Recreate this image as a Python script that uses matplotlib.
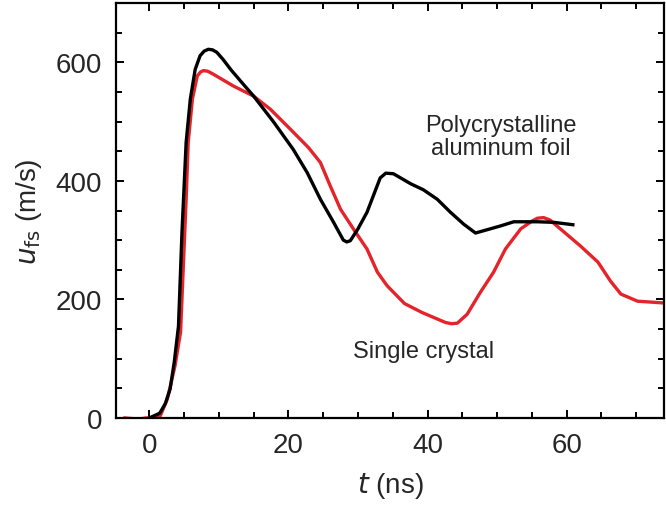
import numpy as np
from matplotlib import pyplot as plt
from matplotlib.ticker import MultipleLocator

# polycrystalline aluminum foil (black)
t_poly = [0, 1.5, 2.3, 3.0, 3.6, 4.2, 4.7, 5.3, 5.9, 6.6, 7.3, 7.9, 8.5, 9.1, 9.7,
          10.6, 11.7, 13.3, 15.0, 17.9, 20.7, 22.7, 24.6, 26.5, 27.9, 28.4, 28.9,
          30.0, 31.3, 33.2, 34.0, 35.1, 37.6, 39.4, 41.4, 43.3, 45.2, 46.9, 48.1,
          50.5, 52.4, 55.8, 58.2, 60.9]
u_poly = [0, 8, 24, 49, 95, 155, 313, 465, 538, 588, 611, 619, 622, 621, 617,
          605, 588, 566, 543, 499, 453, 414, 369, 330, 300, 297, 299,
          319, 347, 405, 413, 412, 395, 385, 369, 347, 327, 312, 316,
          324, 331, 331, 330, 326]

# single crystal (red)
t_single = [-3.5, -2.5, -1.5, -0.5, 0.5, 1.6, 2.6, 3.7, 4.5, 4.9, 5.3, 5.6, 6.2,
            6.9, 7.4, 7.8, 8.4, 9.2, 12.1, 15.0, 17.4, 20.3, 22.9, 24.6, 26.0,
            27.5, 29.4, 31.3, 32.8, 34.2, 36.7, 39.2, 42.6, 43.5, 44.3, 45.7,
            47.6, 49.5, 51.2, 53.4, 55.0, 55.8, 56.7, 57.6, 59.1, 62.0, 64.5,
            66.3, 67.8, 70.2, 74.0]
u_single = [0, -1, -2, 0, 0, 4, 32, 88, 145, 257, 369, 465, 538,
            577, 584, 586, 585, 580, 560, 543, 521, 487, 456, 431, 392,
            352, 318, 285, 246, 223, 193, 178, 161, 159, 160, 175,
            212, 246, 285, 319, 332, 337, 338, 334, 319, 290, 263,
            231, 209, 197, 194]

plt.rcParams['font.family'] = ['Liberation Sans', 'DejaVu Sans']
txt = '#262626'

fig = plt.figure(figsize=(6.66, 5.06), dpi=100)
ax = fig.add_axes([0.174, 0.172, 0.823, 0.820])

ax.plot(t_single, u_single, color='#e4232a', lw=2.4)
ax.plot(t_poly, u_poly, color='black', lw=2.4)

ax.set_xlim(-4.8, 74)
ax.set_ylim(0, 700)
ax.xaxis.set_major_locator(MultipleLocator(20))
ax.xaxis.set_minor_locator(MultipleLocator(5))
ax.yaxis.set_major_locator(MultipleLocator(200))
ax.yaxis.set_minor_locator(MultipleLocator(50))
ax.tick_params(which='both', direction='in', top=True, right=True,
               width=1.4, labelsize=20, labelcolor=txt, pad=10)
ax.tick_params(which='major', length=6)
ax.tick_params(which='minor', length=4)
for s in ax.spines.values():
    s.set_linewidth(1.6)

ax.set_xlabel(r'$\mathit{t}$ (ns)', fontsize=20, color=txt, labelpad=9)
ax.set_ylabel(r'$\mathit{u}_{\mathrm{fs}}$ (m/s)', fontsize=20, color=txt, labelpad=8)

ax.text(50.6, 475, 'Polycrystalline\naluminum foil', fontsize=17, color=txt,
        ha='center', va='center', linespacing=1.05)
ax.text(39.5, 113, 'Single crystal', fontsize=17, color=txt,
        ha='center', va='center')

fig.savefig('out.png', dpi=100)
